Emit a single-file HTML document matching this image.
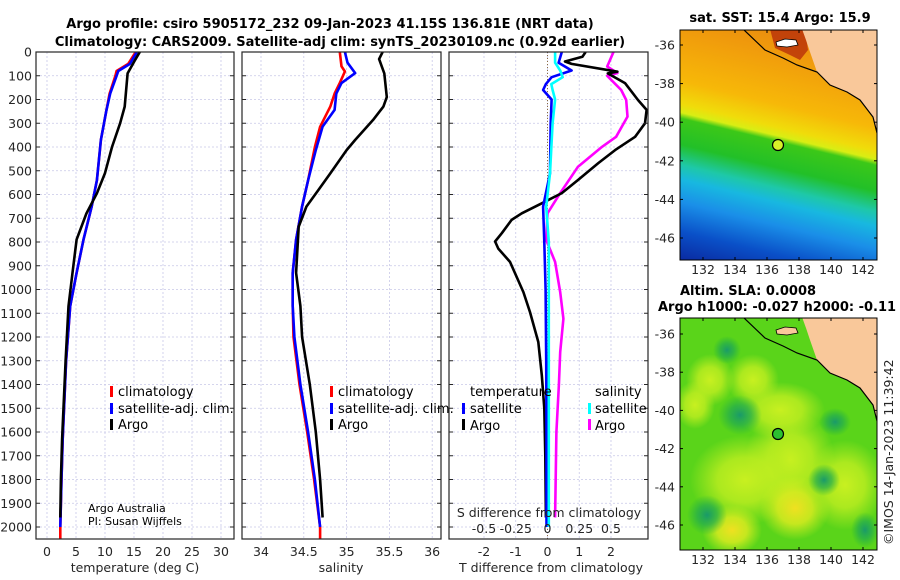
<!DOCTYPE html>
<html><head><meta charset="utf-8"><style>
html,body{margin:0;padding:0;background:#fff;}
svg{display:block;font-family:"DejaVu Sans","Liberation Sans",sans-serif;}
.tk{font-size:12.5px;fill:#262626;}
.ttl{font-size:13px;font-weight:bold;fill:#000;}
.lg{font-size:13px;fill:#000;}
</style></head><body>
<svg id="fig" width="900" height="580" viewBox="0 0 900 580" xmlns="http://www.w3.org/2000/svg">
<defs>
<linearGradient id="sstg" x1="0" y1="0" x2="0" y2="1" gradientUnits="objectBoundingBox">
<stop offset="0" stop-color="#e27a12"/>
<stop offset="0.2" stop-color="#f09a0c"/>
<stop offset="0.38" stop-color="#f7b808"/>
<stop offset="0.46" stop-color="#f0dc0a"/>
<stop offset="0.49" stop-color="#d8ee14"/>
<stop offset="0.51" stop-color="#3cc818"/>
<stop offset="0.6" stop-color="#22c028"/>
<stop offset="0.67" stop-color="#1ec8a8"/>
<stop offset="0.72" stop-color="#18b8e0"/>
<stop offset="0.8" stop-color="#1a8ee8"/>
<stop offset="0.9" stop-color="#0a50c8"/>
<stop offset="1" stop-color="#0a2aa0"/>
</linearGradient>
<radialGradient id="ylw"><stop offset="0" stop-color="#c8f020" stop-opacity="1"/><stop offset="0.5" stop-color="#c0ee20" stop-opacity="0.8"/><stop offset="1" stop-color="#b8ec20" stop-opacity="0"/></radialGradient>
<radialGradient id="ylo"><stop offset="0" stop-color="#f0e020" stop-opacity="1"/><stop offset="0.5" stop-color="#e0ec20" stop-opacity="0.8"/><stop offset="1" stop-color="#d0f020" stop-opacity="0"/></radialGradient>
<radialGradient id="dkg"><stop offset="0" stop-color="#1a9a6a" stop-opacity="1"/><stop offset="0.5" stop-color="#20aa50" stop-opacity="0.7"/><stop offset="1" stop-color="#20b040" stop-opacity="0"/></radialGradient>
<clipPath id="c1"><rect x="680" y="30" width="197" height="230"/></clipPath>
<clipPath id="c2"><rect x="680" y="318" width="197" height="232"/></clipPath>
<clipPath id="p1"><rect x="36" y="52" width="198" height="487"/></clipPath>
<clipPath id="p2"><rect x="242" y="52" width="199" height="487"/></clipPath>
<clipPath id="p3"><rect x="449" y="52" width="199" height="487"/></clipPath>
</defs>

<text class="ttl" x="330" y="28" text-anchor="middle">Argo profile: csiro 5905172_232 09-Jan-2023 41.15S 136.81E (NRT data)</text>
<text class="ttl" x="340" y="46" text-anchor="middle">Climatology: CARS2009. Satellite-adj clim: synTS_20230109.nc (0.92d earlier)</text>

<g id="grid"></g>
<g id="series"></g>
<g id="axes"></g>

<g>
<rect x="110" y="386" width="3" height="11" fill="#f00"/>
<text class="lg" x="118" y="396">climatology</text>
<rect x="110" y="403" width="3" height="11" fill="#00f"/>
<text class="lg" x="118" y="413">satellite-adj. clim.</text>
<rect x="110" y="419" width="3" height="11" fill="#000"/>
<text class="lg" x="118" y="429">Argo</text>
</g>
<g>
<rect x="330" y="386" width="3" height="11" fill="#f00"/>
<text class="lg" x="338" y="396">climatology</text>
<rect x="330" y="403" width="3" height="11" fill="#00f"/>
<text class="lg" x="338" y="413">satellite-adj. clim.</text>
<rect x="330" y="419" width="3" height="11" fill="#000"/>
<text class="lg" x="338" y="429">Argo</text>
</g>
<g>
<text class="lg" x="470" y="396">temperature</text>
<rect x="462" y="403" width="3" height="11" fill="#00f"/>
<text class="lg" x="470" y="413">satellite</text>
<rect x="462" y="419" width="3" height="11" fill="#000"/>
<text class="lg" x="470" y="430">Argo</text>
<text class="lg" x="595" y="396">salinity</text>
<rect x="588" y="403" width="3" height="11" fill="#0ff"/>
<text class="lg" x="595" y="413">satellite</text>
<rect x="588" y="419" width="3" height="11" fill="#f0f"/>
<text class="lg" x="595" y="430">Argo</text>
</g>
<text x="88" y="512" font-size="11" fill="#000">Argo Australia</text>
<text x="88" y="525" font-size="11" fill="#000">PI: Susan Wijffels</text>

<!-- SST map -->
<text class="ttl" x="780" y="22" text-anchor="middle">sat. SST: 15.4 Argo: 15.9</text>
<g clip-path="url(#c1)">
<g transform="translate(0,-163) skewY(13.5)">
<rect x="680" y="-30" width="200" height="290" fill="url(#sstg)"/>
</g>
<path d="M770,29 L775,48 L790,55 L800,60 L808,50 L805,29 Z" fill="#b8300a" opacity="0.8"/>
<path d="M802,29 L806,40 L810,52 L817,72 L830,85 L847,92 L860,100 L873,117 L877,133 L880,133 L880,29 Z" fill="#f9c89a"/>
<path d="M743,29 L765,50 L783,58 L797,65 L817,72 L830,85 L847,92 L860,100 L873,117 L877,133" fill="none" stroke="#000" stroke-width="1.2"/>
<path d="M776,42 L785,39 L796,40 L798,45 L787,47 L777,46 Z" fill="#fff" stroke="#000" stroke-width="0.8"/>
<circle cx="778" cy="145" r="5.5" fill="#d8f028" stroke="#000" stroke-width="1.2"/>
</g>
<rect x="680" y="30" width="197" height="230" fill="none" stroke="#000" stroke-width="1"/>

<!-- SLA map -->
<text class="ttl" x="680" y="295">Altim. SLA: 0.0008</text>
<text class="ttl" x="658" y="311">Argo h1000: -0.027 h2000: -0.11</text>
<g clip-path="url(#c2)">
<rect x="680" y="318" width="197" height="232" fill="#5ad41a"/>
<ellipse cx="790" cy="460" rx="45" ry="50" fill="url(#ylw)"/>
<ellipse cx="745" cy="480" rx="55" ry="45" fill="url(#ylw)"/>
<ellipse cx="795" cy="508" rx="35" ry="32" fill="url(#ylo)"/>
<ellipse cx="732" cy="530" rx="30" ry="25" fill="url(#ylo)"/>
<ellipse cx="710" cy="380" rx="24" ry="26" fill="url(#ylw)"/>
<ellipse cx="753" cy="380" rx="26" ry="26" fill="url(#ylw)"/>
<ellipse cx="695" cy="405" rx="20" ry="24" fill="url(#ylw)"/>
<ellipse cx="780" cy="410" rx="45" ry="28" fill="url(#ylw)"/>
<ellipse cx="845" cy="485" rx="40" ry="45" fill="url(#ylw)"/>
<ellipse cx="740" cy="415" rx="22" ry="20" fill="url(#dkg)"/>
<ellipse cx="707" cy="515" rx="20" ry="20" fill="url(#dkg)"/>
<ellipse cx="824" cy="480" rx="16" ry="16" fill="url(#dkg)"/>
<ellipse cx="835" cy="422" rx="16" ry="14" fill="url(#dkg)"/>
<ellipse cx="727" cy="350" rx="14" ry="14" fill="url(#dkg)"/>
<ellipse cx="865" cy="530" rx="14" ry="18" fill="url(#dkg)"/>
<path d="M802,317 L806,328 L810,340 L817,360 L830,373 L847,380 L860,388 L873,405 L877,421 L880,421 L880,317 Z" fill="#f9c89a"/>
<path d="M743,317 L765,338 L783,346 L797,353 L817,360 L830,373 L847,380 L860,388 L873,405 L877,421" fill="none" stroke="#000" stroke-width="1.2"/>
<path d="M776,330 L785,327 L796,328 L798,333 L787,335 L777,334 Z" fill="#f9c89a" stroke="#000" stroke-width="0.8"/>
<circle cx="778" cy="434" r="5.5" fill="#2cc030" stroke="#000" stroke-width="1.2"/>
</g>
<rect x="680" y="318" width="197" height="232" fill="none" stroke="#000" stroke-width="1"/>
<g id="maptk"></g>
<text class="tk" transform="translate(893,545) rotate(-90)">©IMOS 14-Jan-2023 11:39:42</text>
</svg>
<script>
// ---- data ----
const tDepth   = [0,50,80,100,175,250,370,540,650,790,930,1070,1300,1630,1800,2000,2050];
const tClim    = [15.3,14.0,12.0,11.8,10.8,10.2,9.3,8.6,7.7,6.3,5.1,4.0,3.3,2.7,2.5,2.3,2.3];
const tSat     = [15.5,14.3,12.3,12.0,10.9,10.2,9.3,8.6,7.7,6.3,5.1,4.0,3.3,2.7,2.5,2.3];
const tArgoD   = [0,33,90,230,300,400,510,595,680,790,930,1070,1300,1630,1800,1960];
const tArgo    = [16.0,15.2,13.9,13.4,12.6,11.2,10.0,8.6,6.8,5.1,4.4,3.7,3.2,2.6,2.4,2.3];

const sDepth   = [0,60,82,130,175,230,315,400,540,650,790,930,1070,1200,1400,1600,1800,2000,2050];
const sClim    = [34.92,34.94,34.98,34.92,34.86,34.81,34.69,34.63,34.55,34.48,34.41,34.37,34.37,34.38,34.45,34.54,34.62,34.69,34.69];
const sSatD    = [0,45,89,131,175,244,314,413,540,650,790,930,1070,1200,1400,1600,1800,2000];
const sSat     = [34.98,35.01,35.10,34.94,34.88,34.86,34.72,34.64,34.55,34.48,34.41,34.37,34.37,34.39,34.46,34.55,34.63,34.69];
const sArgoD   = [0,30,90,190,230,286,370,413,511,581,651,735,930,1070,1200,1400,1600,1800,1960];
const sArgo    = [35.42,35.38,35.44,35.47,35.43,35.31,35.10,35.00,34.81,34.67,34.53,34.44,34.41,34.46,34.48,34.57,34.64,34.69,34.72];

const dDepthA  = [0,20,40,50,83,90,131,202,244,300,357,413,468,539,594,637,679,707,763,798,828,884,1011,1095,1221,1361,1500,1700,1960];
const dTArgo   = [1.2,1.1,0.55,0.76,2.2,1.9,2.44,2.85,3.12,3.07,2.76,2.13,1.6,0.96,0.45,-0.18,-0.81,-1.13,-1.44,-1.65,-1.55,-1.18,-0.76,-0.55,-0.29,-0.18,-0.1,-0.07,-0.05];
const dDepthS  = [0,45,78,106,135,160,200,300,511,651,800,1000,1300,1600,2000];
const dTSat    = [0.45,0.35,0.76,0.13,-0.05,-0.14,0.13,0.1,0.08,-0.14,-0.1,-0.06,-0.04,-0.03,-0.03];
const dSSat    = [0.06,0.06,0.1,0.12,0.03,0.04,0.06,0.04,0.02,-0.01,0.01,0.01,0.01,0.01,0.01];
const dSDepthA = [0,61,89,100,160,202,272,357,399,483,594,679,791,884,1011,1123,1263,1400,1600,1960];
const dSArgo   = [0.52,0.47,0.55,0.47,0.58,0.62,0.63,0.54,0.43,0.24,0.1,0.0,-0.01,0.06,0.1,0.125,0.1,0.09,0.07,0.06];

const depthTicks = [0,100,200,300,400,500,600,700,800,900,1000,1100,1200,1300,1400,1500,1600,1700,1800,1900,2000];
const tTicks = [0,5,10,15,20,25,30];
const sTicks = [34,34.5,35,35.5,36];
const sTickLabels = ["34","34.5","35","35.5","36"];
const dTTicks = [-2,-1,0,1,2];
const dSTicks = [-0.5,-0.25,0,0.25,0.5];
const dSTickLabels = ["-0.5","-0.25","0","0.25","0.5"];
const lonTicks = [132,134,136,138,140,142];
const latTicks = [-36,-38,-40,-42,-44,-46];

// ---- scales ----
const Y = d => 52 + d*0.2375;
const XT = t => 47 + t*5.8;
const XS = s => 261 + (s-34)*85.6;
const XD = t => 547.5 + t*31.75;
const XDS = s => 547.5 + s*127;
const LON = l => 703 + (l-132)*16;
const LAT1 = l => 45 + (-36-l)*19.3;
const LAT2 = l => 334 + (-36-l)*19.1;

const NS = "http://www.w3.org/2000/svg";
function mk(tag, attrs, parent){const e=document.createElementNS(NS,tag);for(const k in attrs)e.setAttribute(k,attrs[k]);parent.appendChild(e);return e;}
const grid=document.getElementById('grid'), series=document.getElementById('series'), axes=document.getElementById('axes'), maptk=document.getElementById('maptk');

const panels=[{x0:36,x1:234,clip:'p1'},{x0:242,x1:441,clip:'p2'},{x0:449,x1:648,clip:'p3'}];
panels.forEach((p,i)=>{
  depthTicks.forEach(d=>{const l=mk('line',{x1:p.x0,x2:p.x1,y1:Y(d),y2:Y(d),stroke:'#c8c8e8','stroke-width':0.8,'stroke-dasharray':'2,2'},grid);
    
    });
  const xs = i==0?tTicks.map(XT):i==1?sTicks.map(XS):dTTicks.map(XD);
  xs.forEach(x=>{const l=mk('line',{x1:x,x2:x,y1:52,y2:539,stroke:'#c8c8e8','stroke-width':0.8,'stroke-dasharray':'2,2'},grid);
    
    });
});
mk('line',{x1:XD(0),x2:XD(0),y1:52,y2:539,stroke:'#8a6a40','stroke-width':1,'stroke-dasharray':'1,2'},grid);

function line(xs,ds,fx,color,clip,name){
  const pts=xs.map((v,i)=>fx(v).toFixed(1)+','+Y(ds[i]).toFixed(1)).join(' ');
  const pl=mk('polyline',{points:pts,fill:'none',stroke:color,'stroke-width':2.6,'stroke-linejoin':'round','clip-path':'url(#'+clip+')'},series);
  
  
}
line(tClim,tDepth,XT,'#f00','p1','temp-climatology-line');
line(tSat,tDepth.slice(0,tSat.length),XT,'#00f','p1','temp-satellite-line');
line(tArgo,tArgoD,XT,'#000','p1','temp-argo-line');
line(sClim,sDepth,XS,'#f00','p2','sal-climatology-line');
line(sSat,sSatD,XS,'#00f','p2','sal-satellite-line');
line(sArgo,sArgoD,XS,'#000','p2','sal-argo-line');
line(dSArgo,dSDepthA,XDS,'#f0f','p3','sdiff-argo-line');
line(dTArgo,dDepthA,XD,'#000','p3','tdiff-argo-line');
line(dTSat,dDepthS,XD,'#00f','p3','tdiff-satellite-line');
line(dSSat,dDepthS,XDS,'#0ff','p3','sdiff-satellite-line');

panels.forEach((p,i)=>{
  const r=mk('rect',{x:p.x0,y:52,width:p.x1-p.x0,height:487,fill:'none',stroke:'#262626','stroke-width':1.2},axes);
  
  
  depthTicks.forEach(d=>{
    mk('line',{x1:p.x0,x2:p.x0+4,y1:Y(d),y2:Y(d),stroke:'#262626','stroke-width':1},axes);
    mk('line',{x1:p.x1-4,x2:p.x1,y1:Y(d),y2:Y(d),stroke:'#262626','stroke-width':1},axes);
  });
});
depthTicks.forEach(d=>{const t=mk('text',{x:32,y:Y(d)+4.5,'text-anchor':'end',class:'tk'},axes);t.textContent=d;
  
  });
tTicks.forEach(v=>{const t=mk('text',{x:XT(v),y:556,'text-anchor':'middle',class:'tk'},axes);t.textContent=v;
  
  });
sTicks.forEach((v,i)=>{const t=mk('text',{x:XS(v),y:556,'text-anchor':'middle',class:'tk'},axes);t.textContent=sTickLabels[i];
  
  });
dTTicks.forEach(v=>{const t=mk('text',{x:XD(v),y:556,'text-anchor':'middle',class:'tk'},axes);t.textContent=v;
  
  });
dSTicks.forEach((v,i)=>{const t=mk('text',{x:XDS(v),y:533,'text-anchor':'middle',class:'tk'},axes);t.textContent=dSTickLabels[i];
  
  });
[['temperature (deg C)',135,'temp-axis-title'],['salinity',341,'sal-axis-title'],['T difference from climatology',551,'tdiff-axis-title']].forEach(a=>{
  const t=mk('text',{x:a[1],y:572,'text-anchor':'middle',class:'tk','font-size':'13'},axes);t.textContent=a[0];
  
  });
{const t=mk('text',{x:549,y:517,'text-anchor':'middle',class:'tk','font-size':'13'},axes);t.textContent='S difference from climatology';
  
  }

[[30,260,LAT1],[318,550,LAT2]].forEach(m=>{
  lonTicks.forEach(l=>{
    mk('line',{x1:LON(l),x2:LON(l),y1:m[0],y2:m[0]+3,stroke:'#000'},maptk);
    mk('line',{x1:LON(l),x2:LON(l),y1:m[1]-3,y2:m[1],stroke:'#000'},maptk);
    const t=mk('text',{x:LON(l),y:m[1]+14,'text-anchor':'middle',class:'tk'},maptk);t.textContent=l;
    
    
  });
  latTicks.forEach(l=>{
    const y=m[2](l);
    mk('line',{x1:680,x2:683,y1:y,y2:y,stroke:'#000'},maptk);
    mk('line',{x1:874,x2:877,y1:y,y2:y,stroke:'#000'},maptk);
    const t=mk('text',{x:675,y:y+4.5,'text-anchor':'end',class:'tk'},maptk);t.textContent=l;
    
    
  });
});
</script>
</body></html>
